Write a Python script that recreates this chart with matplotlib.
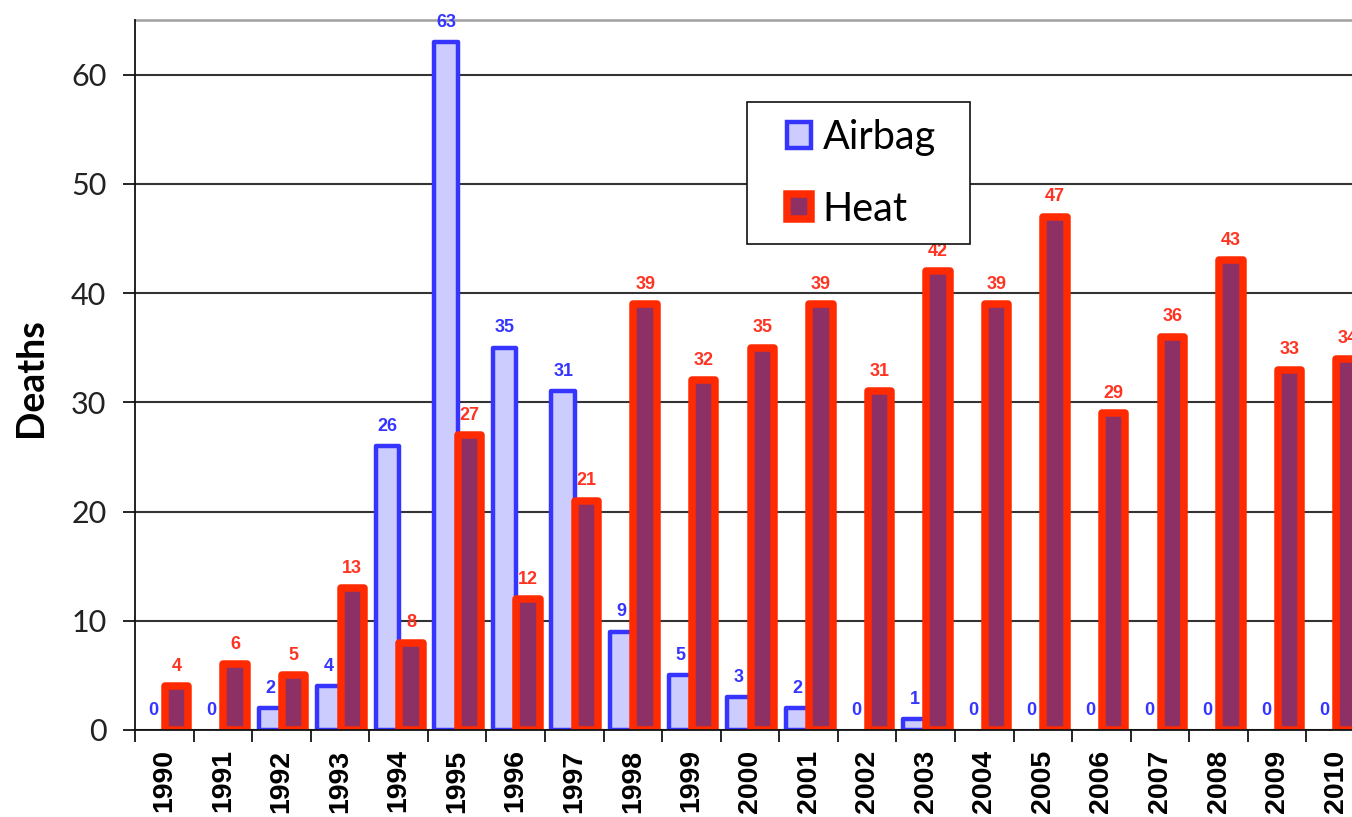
import matplotlib
matplotlib.use("Agg")
import matplotlib.pyplot as plt
from matplotlib.patches import Rectangle, Patch
import numpy as np

years = ["1990", "1991", "1992", "1993", "1994", "1995", "1996", "1997", "1998", "1999",
         "2000", "2001", "2002", "2003", "2004", "2005", "2006", "2007", "2008", "2009", "2010"]
airbag = [0, 0, 2, 4, 26, 63, 35, 31, 9, 5, 3, 2, 0, 1, 0, 0, 0, 0, 0, 0, 0]
heat = [4, 6, 5, 13, 8, 27, 12, 21, 39, 32, 35, 39, 31, 42, 39, 47, 29, 36, 43, 33, 34]
yticks = [0, 10, 20, 30, 40, 50, 60]

AIR_FACE, AIR_EDGE = "#CCCCFF", "#3535FF"
HEAT_FACE, HEAT_EDGE = "#8C3065", "#FF2A00"
AIR_LW, HEAT_LW = 3.2, 5.4

fig = plt.figure(figsize=(13.52, 8.17), dpi=100)
ax = fig.add_axes([0.09985, 0.10649, 0.9098, 0.86903])

x = np.arange(len(years))
w = 0.40
b1 = ax.bar(x - 0.19, airbag, w, color=AIR_FACE, edgecolor=AIR_EDGE, linewidth=AIR_LW,
            zorder=3)
b2 = ax.bar(x + 0.21, heat, w, color=HEAT_FACE, edgecolor=HEAT_EDGE, linewidth=HEAT_LW,
            zorder=4)
for p in list(b1) + list(b2):
    p.set_joinstyle("round")
for p, v in zip(b1, airbag):
    if v == 0:
        p.set_visible(False)
for p, v in zip(b2, heat):
    if v == 0:
        p.set_visible(False)

for xi, v in zip(x, airbag):
    ax.annotate(str(v), (xi - 0.19, v), xytext=(0, 11), textcoords="offset points",
                ha="center", va="baseline", color="#3535FF", fontsize=13,
                fontweight="bold", family="Liberation Sans", zorder=6, annotation_clip=False)
for xi, v in zip(x, heat):
    ax.annotate(str(v), (xi + 0.21, v), xytext=(0, 11), textcoords="offset points",
                ha="center", va="baseline", color="#FF3322", fontsize=13,
                fontweight="bold", family="Liberation Sans", zorder=6, annotation_clip=False)

ax.set_xlim(-0.5, len(years) - 0.5)
ax.set_ylim(0, 65)
ax.set_yticks(yticks)
ax.set_yticklabels([str(t) for t in yticks], family="Lato", fontsize=22, color="#222222")
ax.tick_params(axis="y", length=8.6, width=1.2, pad=12, direction="out")

ax.set_xticks(np.arange(len(years) + 1) - 0.5)
ax.set_xticklabels([])
ax.tick_params(axis="x", which="major", length=8.6, width=1.2, direction="out")
ax.set_xticks(x, minor=True)
ax.set_xticklabels(years, minor=True, rotation=90, family="Liberation Sans",
                   fontweight="bold", fontsize=20.5)
ax.tick_params(axis="x", which="minor", length=0, pad=14)

ax.yaxis.grid(True, color="#333333", linewidth=1.5, zorder=0)
ax.set_axisbelow(True)
for s in ["left", "bottom"]:
    ax.spines[s].set_color("#111111")
    ax.spines[s].set_linewidth(1.3)
    ax.spines[s].set_zorder(5)
ax.spines["top"].set_color("#A0A0A0")
ax.spines["top"].set_linewidth(1.8)
ax.spines["right"].set_visible(False)

ax.set_ylabel("Deaths", family="Lato", fontweight="bold", fontsize=27)
ax.yaxis.set_label_coords(-0.0706, 0.496)

# legend frame drawn separately, legend content without frame
frame = Rectangle((0.4976, 0.6845), 0.6789 - 0.4976, 0.8845 - 0.6845,
                  transform=ax.transAxes, facecolor="white", edgecolor="#111111",
                  linewidth=1.2, zorder=9, clip_on=False)
ax.add_patch(frame)
handles = [Patch(facecolor=AIR_FACE, edgecolor=AIR_EDGE, linewidth=AIR_LW, joinstyle="round"),
           Patch(facecolor=HEAT_FACE, edgecolor=HEAT_EDGE, linewidth=HEAT_LW, joinstyle="round")]
leg = ax.legend(handles, ["Airbag", "Heat"], loc="upper left",
                bbox_to_anchor=(0.5301, 0.8606), borderaxespad=0,
                borderpad=0, prop={"family": "Lato", "size": 28.5}, handlelength=0.6,
                handleheight=0.6, handletextpad=0.3, labelspacing=0.88, frameon=False)
leg.set_zorder(10)

fig.savefig("out.png", dpi=100)
